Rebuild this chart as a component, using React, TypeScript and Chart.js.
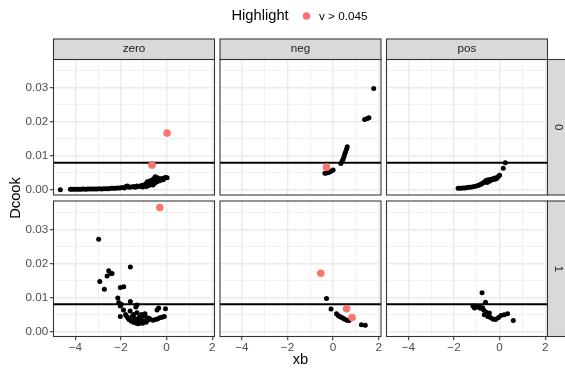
import React, { useEffect, useRef } from 'react';
import { Chart, registerables } from 'chart.js';
Chart.register(...registerables);

// ---------- data ----------
const FACETS = ['zero', 'neg', 'pos'];
const ROWS = ['0', '1'];
const X_RANGE = [-4.96, 2.1];
const Y_RANGE = [-0.00147, 0.0383];
const X_MAJOR = [-4, -2, 0, 2];
const X_MINOR = [-3, -1, 1];
const Y_MAJOR = [0, 0.01, 0.02, 0.03];
const Y_MINOR = [0.005, 0.015, 0.025, 0.035];
const CUTOFF = 0.008;
const LEGEND_TITLE = 'Highlight';
const LEGEND_LABEL = 'v > 0.045';
const X_TITLE = 'xb';
const Y_TITLE = 'Dcook';

type P = [number, number];

const zero0Black: P[] = [
  [-4.66, 0.0001], [-4.22, 0.0002], [-4.15, 0.0002], [-4.05, 0.0002], [-3.95, 0.0002], [-3.85, 0.0002],
  [-3.75, 0.0002], [-3.65, 0.0003], [-3.55, 0.0002], [-3.45, 0.0003], [-3.35, 0.0003], [-3.25, 0.0003],
  [-3.15, 0.0003], [-3.05, 0.0003], [-2.95, 0.0004], [-2.85, 0.0003], [-2.75, 0.0004], [-2.65, 0.0004],
  [-2.55, 0.0004], [-2.45, 0.0005], [-2.35, 0.0005], [-2.25, 0.0005], [-2.15, 0.0006], [-2.05, 0.0006],
  [-1.95, 0.0007], [-1.85, 0.0006], [-1.78, 0.0010], [-1.72, 0.0012], [-1.65, 0.0008], [-1.55, 0.0009],
  [-1.45, 0.0010], [-1.38, 0.0008], [-1.3, 0.0012], [-1.25, 0.0010], [-1.18, 0.0011], [-1.1, 0.0013],
  [-1.05, 0.0009], [-1.0, 0.0015], [-0.95, 0.0012], [-0.9, 0.0018], [-0.88, 0.0010], [-0.85, 0.0024],
  [-0.8, 0.0016], [-0.78, 0.0013], [-0.75, 0.0020], [-0.72, 0.0027], [-0.7, 0.0017], [-0.66, 0.0022],
  [-0.62, 0.0030], [-0.6, 0.0015], [-0.58, 0.0025], [-0.55, 0.0034], [-0.52, 0.0020], [-0.5, 0.0039],
  [-0.48, 0.0028], [-0.45, 0.0031], [-0.42, 0.0024], [-0.4, 0.0036], [-0.35, 0.0030], [-0.32, 0.0033],
  [-0.3, 0.0027], [-0.25, 0.0031], [-0.2, 0.0034], [-0.15, 0.0030], [-0.1, 0.0035], [-0.05, 0.0037],
  [0.02, 0.0036],
];
const zero0Red: P[] = [[0.02, 0.0167], [-0.64, 0.0073]];

const neg0Black: P[] = [
  [1.78, 0.0298], [1.38, 0.0207], [1.5, 0.021], [1.57, 0.0212],
  [0.34, 0.0078], [0.4, 0.0085], [0.44, 0.0091], [0.48, 0.0098], [0.51, 0.0106], [0.55, 0.0112],
  [0.59, 0.012], [0.62, 0.0127],
  [-0.36, 0.0049], [-0.3, 0.005], [-0.22, 0.0051], [-0.15, 0.0053], [-0.08, 0.0056], [0.0, 0.0059],
];
const neg0Red: P[] = [[-0.29, 0.0067]];

const pos0Black: P[] = [
  [0.25, 0.008], [0.16, 0.0064],
  [-1.82, 0.0005], [-1.72, 0.0005], [-1.62, 0.0006], [-1.52, 0.0006], [-1.42, 0.0007], [-1.32, 0.0008],
  [-1.22, 0.0009], [-1.12, 0.001], [-1.02, 0.0012], [-0.92, 0.0014], [-0.85, 0.0016], [-0.78, 0.0018],
  [-0.72, 0.0021], [-0.65, 0.0024], [-0.6, 0.0028], [-0.55, 0.0022], [-0.5, 0.003], [-0.45, 0.0026],
  [-0.4, 0.0031], [-0.35, 0.0029], [-0.3, 0.0033], [-0.25, 0.0031], [-0.2, 0.0035], [-0.15, 0.0033],
  [-0.1, 0.0037], [-0.05, 0.004], [0.0, 0.0043],
];
const pos0Red: P[] = [];

const zero1Black: P[] = [
  [-2.98, 0.0271], [-1.59, 0.0189], [-2.54, 0.0178], [-2.46, 0.017], [-2.39, 0.017], [-2.61, 0.0163],
  [-2.93, 0.0147], [-2.73, 0.0124], [-2.03, 0.0129], [-1.88, 0.0131], [-2.14, 0.0098], [-2.1, 0.0085],
  [-2.03, 0.0075], [-1.59, 0.0088], [-1.3, 0.0078], [-1.35, 0.0072], [-1.99, 0.008], [-2.03, 0.0044],
  [-1.89, 0.0063], [-0.35, 0.0069], [-0.42, 0.0063], [-0.05, 0.0067],
  [-1.8, 0.005], [-1.7, 0.004], [-1.65, 0.0035], [-1.6, 0.006], [-1.55, 0.003], [-1.5, 0.0045],
  [-1.45, 0.0027], [-1.4, 0.0038], [-1.35, 0.0025], [-1.3, 0.0055], [-1.3, 0.0032], [-1.25, 0.0023],
  [-1.2, 0.0042], [-1.2, 0.0028], [-1.15, 0.0025], [-1.1, 0.005], [-1.1, 0.0033], [-1.05, 0.0024],
  [-1.0, 0.0045], [-1.0, 0.003], [-0.95, 0.0052], [-0.9, 0.0027], [-0.85, 0.004], [-0.8, 0.0034],
  [-0.75, 0.0038], [-0.6, 0.0033], [-0.5, 0.0035], [-0.4, 0.0037], [-0.3, 0.004], [-0.2, 0.0042],
  [-0.1, 0.0044], [-1.45, 0.005], [-1.75, 0.0045],
];
const zero1Red: P[] = [[-0.3, 0.0364]];

const neg1Black: P[] = [
  [-0.29, 0.0097], [-0.09, 0.0066], [0.15, 0.0052], [0.22, 0.0047], [0.29, 0.0044], [0.37, 0.0041],
  [0.44, 0.0039], [0.51, 0.0036], [0.61, 0.0033], [0.7, 0.0032], [1.24, 0.002], [1.41, 0.0018],
];
const neg1Red: P[] = [[-0.54, 0.0171], [0.59, 0.0067], [0.83, 0.0041]];

const pos1Black: P[] = [
  [-0.77, 0.0114], [-0.62, 0.0086], [-1.17, 0.0075], [-1.1, 0.0069], [-1.0, 0.0072], [-0.9, 0.0073],
  [-0.85, 0.0068], [-0.75, 0.007], [-0.7, 0.0063], [-0.67, 0.0049], [-0.6, 0.0057], [-0.52, 0.0044],
  [-0.45, 0.0054], [-0.4, 0.0041], [-0.3, 0.0037], [-0.22, 0.0036], [-0.16, 0.0036], [-0.05, 0.0041],
  [0.06, 0.0047], [0.2, 0.0049], [0.35, 0.0052], [0.6, 0.0032],
];
const pos1Red: P[] = [];

const BLACK: P[][][] = [[zero0Black, neg0Black, pos0Black], [zero1Black, neg1Black, pos1Black]];
const RED: P[][][] = [[zero0Red, neg0Red, pos0Red], [zero1Red, neg1Red, pos1Red]];

// ---------- layout / style ----------
const W = 565;
const H = 369;
const PANEL_LEFT = [53.5, 220, 386.5];
const PANEL_W = 161;
const ROW_TOP = [59.5, 201];
const PANEL_H = 135.5;
const STRIP_TOP = 39;
const STRIP_W = 20.5;
const Y_AXIS_W = 40;
const X_AXIS_H = 30;
const FONT = "'Liberation Sans', Arial, Helvetica, sans-serif";
const RED_COL = '#F8766D';
const GRID_COL = '#EBEBEB';
const DARK = '#333333';

Chart.defaults.font.family = FONT;

const fmtX = (v: number) => (v < 0 ? '\u2212' + Math.abs(v) : String(v));

function makeConfig(r: number, c: number): any {
  const yW = c === 0 ? Y_AXIS_W : 0;
  const xH = r === 1 ? X_AXIS_H : 0;
  const padding = {
    left: PANEL_LEFT[c] - yW,
    right: W - (PANEL_LEFT[c] + PANEL_W),
    top: ROW_TOP[r],
    bottom: H - (ROW_TOP[r] + PANEL_H) - xH,
  };
  const toPts = (arr: P[]) => arr.map(([x, y]) => ({ x, y }));

  const framePlugin = {
    id: 'frame' + r + c,
    afterDraw(chart: any) {
      const { ctx, chartArea: a } = chart;
      ctx.save();
      ctx.lineWidth = 1.07;
      ctx.strokeStyle = DARK;
      ctx.strokeRect(a.left, a.top, a.right - a.left, a.bottom - a.top);
      // top strip
      if (r === 0) {
        ctx.fillStyle = '#D9D9D9';
        ctx.fillRect(a.left, STRIP_TOP, a.right - a.left, a.top - STRIP_TOP);
        ctx.strokeRect(a.left, STRIP_TOP, a.right - a.left, a.top - STRIP_TOP);
        ctx.fillStyle = '#1A1A1A';
        ctx.font = `11.7px ${FONT}`;
        ctx.textAlign = 'center';
        ctx.textBaseline = 'middle';
        ctx.fillText(FACETS[c], (a.left + a.right) / 2, (STRIP_TOP + a.top) / 2);
      }
      // right strip
      if (c === 2) {
        ctx.fillStyle = '#D9D9D9';
        ctx.fillRect(a.right, a.top, STRIP_W, a.bottom - a.top);
        ctx.strokeRect(a.right, a.top, STRIP_W, a.bottom - a.top);
        ctx.fillStyle = '#1A1A1A';
        ctx.font = `11.7px ${FONT}`;
        ctx.textAlign = 'center';
        ctx.textBaseline = 'middle';
        ctx.translate(a.right + STRIP_W / 2, (a.top + a.bottom) / 2);
        ctx.rotate(Math.PI / 2);
        ctx.fillText(ROWS[r], 0, 0);
        ctx.setTransform(1, 0, 0, 1, 0, 0);
      }
      // global texts
      if (r === 0 && c === 0) {
        ctx.fillStyle = '#000000';
        ctx.font = `14.7px ${FONT}`;
        ctx.textBaseline = 'middle';
        ctx.textAlign = 'left';
        ctx.fillText(LEGEND_TITLE, 231.5, 16);
        ctx.beginPath();
        ctx.fillStyle = RED_COL;
        ctx.arc(306.5, 16, 3.8, 0, Math.PI * 2);
        ctx.fill();
        ctx.fillStyle = '#000000';
        ctx.font = `11.7px ${FONT}`;
        ctx.fillText(LEGEND_LABEL, 319, 16.5);
        ctx.font = `14.7px ${FONT}`;
        ctx.textAlign = 'center';
        ctx.fillText(X_TITLE, (PANEL_LEFT[0] + PANEL_LEFT[2] + PANEL_W) / 2, 360);
        ctx.translate(16, (ROW_TOP[0] + ROW_TOP[1] + PANEL_H) / 2);
        ctx.rotate(-Math.PI / 2);
        ctx.fillText(Y_TITLE, 0, 0);
        ctx.setTransform(1, 0, 0, 1, 0, 0);
      }
      ctx.restore();
    },
  };

  const xTicks = [...X_MAJOR, ...X_MINOR].sort((a, b) => a - b);
  const yTicks = [...Y_MAJOR, ...Y_MINOR].sort((a, b) => a - b);

  return {
    type: 'scatter',
    data: {
      datasets: [
        {
          label: 'red',
          data: toPts(RED[r][c]),
          pointRadius: 3.8,
          pointBackgroundColor: RED_COL,
          pointBorderWidth: 0,
          order: 0,
        },
        {
          label: 'black',
          data: toPts(BLACK[r][c]),
          pointRadius: 2.5,
          pointBackgroundColor: '#000000',
          pointBorderWidth: 0,
          order: 1,
        },
        {
          label: 'cutoff',
          data: [
            { x: X_RANGE[0], y: CUTOFF },
            { x: X_RANGE[1], y: CUTOFF },
          ],
          showLine: true,
          pointRadius: 0,
          borderColor: '#000000',
          borderWidth: 2,
          order: 2,
        },
      ],
    },
    options: {
      animation: false,
      responsive: false,
      devicePixelRatio: 1,
      events: [],
      layout: { padding },
      plugins: { legend: { display: false }, tooltip: { enabled: false }, title: { display: false } },
      scales: {
        x: {
          type: 'linear',
          min: X_RANGE[0],
          max: X_RANGE[1],
          afterBuildTicks: (s: any) => {
            s.ticks = xTicks.map((v) => ({ value: v }));
          },
          afterFit: (s: any) => {
            s.height = xH;
          },
          border: { display: false },
          grid: {
            color: GRID_COL,
            lineWidth: (ctx: any) => (X_MAJOR.includes(ctx.tick?.value) ? 1.42 : 0.71),
            drawTicks: r === 1,
            tickLength: 3.7,
            tickWidth: 1.07,
            tickColor: (ctx: any) => (X_MAJOR.includes(ctx.tick?.value) ? DARK : 'rgba(0,0,0,0)'),
          },
          ticks: {
            display: r === 1,
            autoSkip: false,
            maxRotation: 0,
            padding: 1,
            color: '#4D4D4D',
            font: { size: 11.7, family: FONT },
            callback: (v: number) => (X_MAJOR.includes(v) ? fmtX(v) : ''),
          },
        },
        y: {
          type: 'linear',
          min: Y_RANGE[0],
          max: Y_RANGE[1],
          afterBuildTicks: (s: any) => {
            s.ticks = yTicks.map((v) => ({ value: v }));
          },
          afterFit: (s: any) => {
            s.width = yW;
          },
          border: { display: false },
          grid: {
            color: GRID_COL,
            lineWidth: (ctx: any) => (Y_MAJOR.includes(ctx.tick?.value) ? 1.42 : 0.71),
            drawTicks: c === 0,
            tickLength: 3.7,
            tickWidth: 1.07,
            tickColor: (ctx: any) => (Y_MAJOR.includes(ctx.tick?.value) ? DARK : 'rgba(0,0,0,0)'),
          },
          ticks: {
            display: c === 0,
            autoSkip: false,
            padding: 1.5,
            color: '#4D4D4D',
            font: { size: 11.7, family: FONT },
            callback: (v: number) => (Y_MAJOR.includes(v) ? v.toFixed(2) : ''),
          },
        },
      },
    },
    plugins: [framePlugin],
  };
}

function Panel({ r, c }: { r: number; c: number }) {
  const ref = useRef<HTMLCanvasElement>(null);
  useEffect(() => {
    if (!ref.current) return;
    const chart = new Chart(ref.current, makeConfig(r, c));
    return () => chart.destroy();
  }, [r, c]);
  return (
    <canvas
      ref={ref}
      width={W}
      height={H}
      style={{ position: 'absolute', left: 0, top: 0, width: W, height: H, pointerEvents: 'none' }}
    />
  );
}

export default function App() {
  const cells: { r: number; c: number }[] = [];
  for (let r = 0; r < ROWS.length; r++) for (let c = 0; c < FACETS.length; c++) cells.push({ r, c });
  return (
    <div style={{ position: 'absolute', left: 0, top: 0, width: W, height: H, background: '#FFFFFF', overflow: 'hidden' }}>
      {cells.map(({ r, c }) => (
        <Panel key={`${r}-${c}`} r={r} c={c} />
      ))}
    </div>
  );
}
